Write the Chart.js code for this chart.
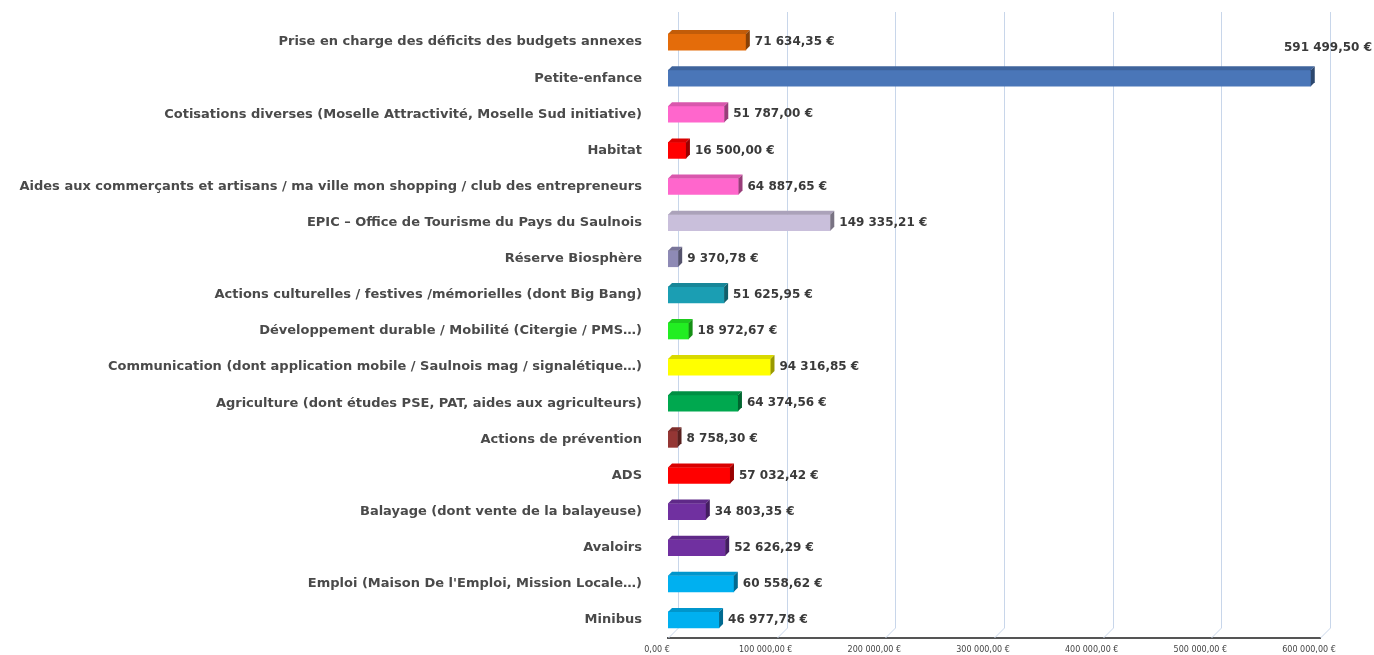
<!DOCTYPE html>
<html><head><meta charset="utf-8">
<script src="https://cdn.jsdelivr.net/npm/chart.js@4/dist/chart.umd.min.js"></script>
<style>html,body{margin:0;padding:0;background:#fff}#wrap{width:1374px;height:655px}</style>
</head><body><div id="wrap"><canvas id="c" width="1374" height="655"></canvas></div>
<script>
const categories = [
  "Prise en charge des déficits des budgets annexes",
  "Petite-enfance",
  "Cotisations diverses (Moselle Attractivité, Moselle Sud initiative)",
  "Habitat",
  "Aides aux commerçants et artisans / ma ville mon shopping / club des entrepreneurs",
  "EPIC – Office de Tourisme du Pays du Saulnois",
  "Réserve Biosphère",
  "Actions culturelles / festives /mémorielles (dont Big Bang)",
  "Développement durable / Mobilité (Citergie / PMS…)",
  "Communication (dont application mobile / Saulnois mag / signalétique…)",
  "Agriculture (dont études PSE, PAT, aides aux agriculteurs)",
  "Actions de prévention",
  "ADS",
  "Balayage (dont vente de la balayeuse)",
  "Avaloirs",
  "Emploi (Maison De l'Emploi, Mission Locale…)",
  "Minibus"
];
const amounts = [71634.35, 591499.50, 51787.00, 16500.00, 64887.65, 149335.21, 9370.78, 51625.95, 18972.67, 94316.85, 64374.56, 8758.30, 57032.42, 34803.35, 52626.29, 60558.62, 46977.78];
const barColors = ["#E46C0A","#4A76B8","#FF66CC","#FF0000","#FF66CC","#C9BFDB","#8E8AB5","#1B9EB3","#22EE22","#FFFF00","#00A84F","#943634","#FF0000","#7030A0","#7030A0","#00B0F0","#00B0F0"];
const xTicks = [0,100000,200000,300000,400000,500000,600000];

function frNum(v){
  const p = v.toFixed(2).split(".");
  const i = p[0].replace(/\B(?=(\d{3})+(?!\d))/g, " ");
  return i + "," + p[1] + " €";
}
function darken(hex, f){
  const n = parseInt(hex.slice(1),16);
  const r=Math.round(((n>>16)&255)*f), g=Math.round(((n>>8)&255)*f), b=Math.round((n&255)*f);
  return "rgb("+r+","+g+","+b+")";
}

const backGrid = {
  id:'backGrid',
  beforeDatasetsDraw(chart){
    const ctx = chart.ctx, xs = chart.scales.x, ca = chart.chartArea;
    ctx.save();
    ctx.strokeStyle = "#C8D6EA"; ctx.lineWidth = 1;
    xTicks.forEach(v=>{
      const px = Math.round(xs.getPixelForValue(v)) + 10.5;
      ctx.beginPath();
      ctx.moveTo(px, 12); ctx.lineTo(px, ca.bottom - 10); ctx.lineTo(px - 10, ca.bottom);
      ctx.stroke();
    });
    ctx.restore();
  }
};

const bar3d = {
  id:'bar3d',
  afterDatasetsDraw(chart){
    const ctx = chart.ctx;
    const meta = chart.getDatasetMeta(0);
    ctx.save();
    meta.data.forEach((el,i)=>{
      const h = el.height, x = el.x, y0 = el.y - h/2, y1 = el.y + h/2, base = el.base;
      const d = 4;
      ctx.fillStyle = darken(barColors[i], 0.85);
      ctx.beginPath();
      ctx.moveTo(base, y0); ctx.lineTo(base+d, y0-d); ctx.lineTo(x+d, y0-d); ctx.lineTo(x, y0); ctx.closePath(); ctx.fill();
      ctx.fillStyle = darken(barColors[i], 0.6);
      ctx.beginPath();
      ctx.moveTo(x, y0); ctx.lineTo(x+d, y0-d); ctx.lineTo(x+d, y1-d); ctx.lineTo(x, y1); ctx.closePath(); ctx.fill();
      ctx.fillStyle = "#3a3a3a";
      ctx.font = "bold 12px 'DejaVu Sans', sans-serif";
      ctx.textBaseline = "middle";
      const txt = frNum(amounts[i]);
      if (i === 1) {
        ctx.textAlign = "right";
        ctx.fillText(txt, 1372, el.y - 30);
      } else {
        ctx.textAlign = "left";
        ctx.fillText(txt, x + 9, el.y);
      }
    });
    ctx.restore();
  }
};

new Chart(document.getElementById('c'), {
  type: 'bar',
  data: { labels: categories, datasets: [{ data: amounts, backgroundColor: barColors, barThickness: 16, borderWidth: 0 }] },
  options: {
    indexAxis: 'y', responsive: false, animation: false,
    layout: { padding: { top: 24, right: 54, left: 0, bottom: 0 } },
    plugins: { legend: { display: false }, tooltip: { enabled: false } },
    scales: {
      x: {
        min: 0, max: 600000,
        afterBuildTicks: s => { s.ticks = xTicks.map(v => ({ value: v })); },
        afterFit: s => { s.height = 17; s.paddingLeft = 0; s.paddingRight = 0; },
        ticks: { callback: v => frNum(v), font: { size: 8, family: "'DejaVu Sans', sans-serif" }, color: "#444", padding: 7, maxRotation: 0, labelOffset: -11 },
        grid: { display: false, drawTicks: false },
        border: { display: true, color: "#555", width: 2 }
      },
      y: {
        afterFit: s => { s.width = 668; s.paddingTop = 0; s.paddingBottom = 0; },
        ticks: { font: { size: 13, weight: 'bold', family: "'DejaVu Sans', sans-serif" }, color: "#4a4a4a", padding: 18, autoSkip: false },
        grid: { display: false },
        border: { display: false }
      }
    }
  },
  plugins: [backGrid, bar3d]
});
</script></body></html>
